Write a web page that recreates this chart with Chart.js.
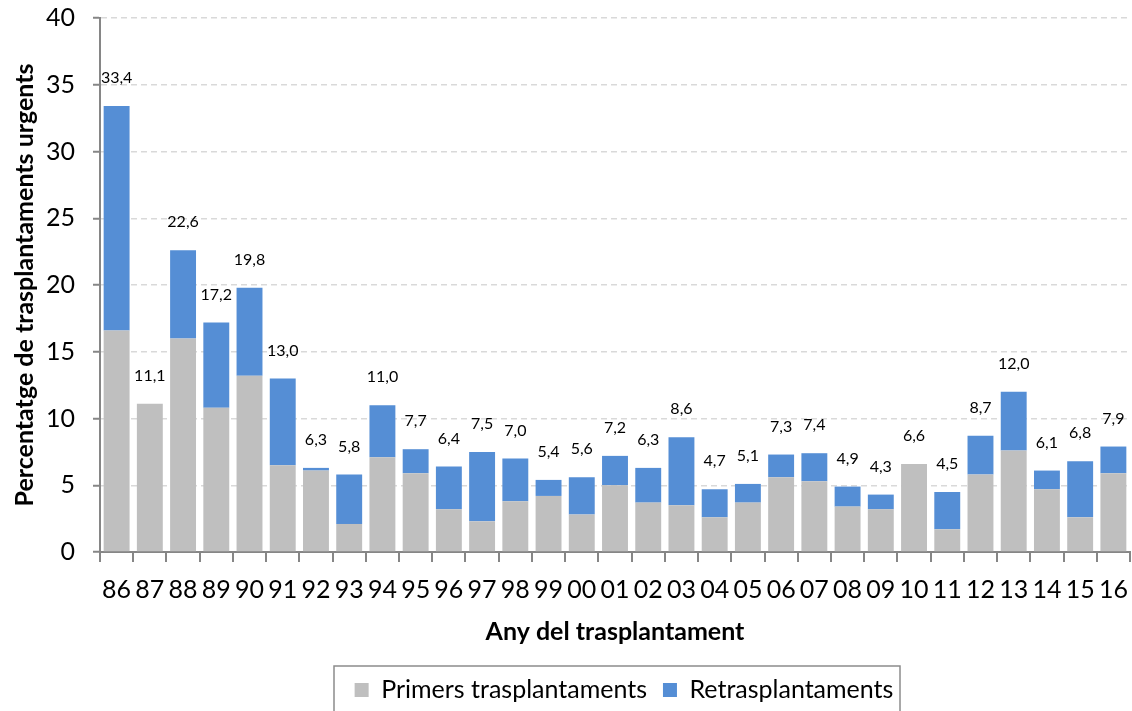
<!DOCTYPE html>
<html>
<head>
<meta charset="utf-8">
<script src="https://cdn.jsdelivr.net/npm/chart.js@4.4.0/dist/chart.umd.min.js"></script>
<style>
  html, body { margin: 0; padding: 0; background: #fff; }
  #wrap { width: 1132px; height: 711px; position: relative; }
</style>
</head>
<body>
<div id="wrap"><canvas id="c" width="1132" height="711"></canvas></div>
<script>
const years = ['86','87','88','89','90','91','92','93','94','95','96','97','98','99','00','01','02','03','04','05','06','07','08','09','10','11','12','13','14','15','16'];
const primers = [16.6, 11.1, 16.0, 10.8, 13.2, 6.5, 6.1, 2.1, 7.1, 5.9, 3.2, 2.3, 3.8, 4.2, 2.8, 5.0, 3.7, 3.5, 2.6, 3.7, 5.6, 5.3, 3.4, 3.2, 6.6, 1.7, 5.8, 7.6, 4.7, 2.6, 5.9];
const retrasplantaments = [16.8, 0.0, 6.6, 6.4, 6.6, 6.5, 0.2, 3.7, 3.9, 1.8, 3.2, 5.2, 3.2, 1.2, 2.8, 2.2, 2.6, 5.1, 2.1, 1.4, 1.7, 2.1, 1.5, 1.1, 0.0, 2.8, 2.9, 4.4, 1.4, 4.2, 2.0];
const yTicks = [0, 5, 10, 15, 20, 25, 30, 35, 40];

const FONT = 'Lato, "Open Sans", sans-serif';

const totalLabels = {
  id: 'totalLabels',
  afterDatasetsDraw(chart) {
    const ctx = chart.ctx;
    const meta = chart.getDatasetMeta(1);
    const y = chart.scales.y;
    ctx.save();
    ctx.font = '16px ' + FONT;
    ctx.fillStyle = '#000';
    ctx.textAlign = 'center';
    ctx.textBaseline = 'middle';
    years.forEach((yr, i) => {
      const total = primers[i] + retrasplantaments[i];
      const px = meta.data[i].x;
      const py = y.getPixelForValue(total) - 28;
      ctx.fillText(total.toFixed(1).replace('.', ','), px, py);
    });
    ctx.restore();
  }
};

const legendPlace = {
  id: 'legendPlace',
  afterLayout(chart) {
    const lg = chart.legend;
    if (!lg) return;
    const cx = 624, half = 420;
    lg.left = cx - half; lg.right = cx + half; lg.width = 2 * half;
    lg.top = 677.5 - 16; lg.bottom = 711; lg.height = lg.bottom - lg.top;
  },
  afterDraw(chart) {
    const boxes = chart.legend && chart.legend.legendHitBoxes;
    if (!boxes || !boxes.length) return;
    let l = Infinity, r = -Infinity, t = Infinity;
    boxes.forEach(b => { l = Math.min(l, b.left); r = Math.max(r, b.left + b.width); t = Math.min(t, b.top); });
    const ctx = chart.ctx;
    ctx.save();
    ctx.strokeStyle = '#8c8c8c';
    ctx.lineWidth = 1.5;
    ctx.strokeRect(Math.round(l - 21), Math.round(t - 11.5), Math.round(r - l + 27), 80);
    ctx.restore();
  }
};

new Chart(document.getElementById('c'), {
  type: 'bar',
  data: {
    labels: years,
    datasets: [
      { label: 'Primers trasplantaments', data: primers, backgroundColor: '#bfbfbf', barPercentage: 0.78, categoryPercentage: 1.0 },
      { label: 'Retrasplantaments', data: retrasplantaments, backgroundColor: '#558ed5', barPercentage: 0.78, categoryPercentage: 1.0 }
    ]
  },
  options: {
    responsive: false,
    animation: false,
    layout: { padding: { top: 0, right: 2, left: 0, bottom: 0 } },
    plugins: {
      legend: {
        position: 'bottom',
        maxHeight: 64,
        labels: {
          boxWidth: 14, boxHeight: 14, padding: 16,
          color: '#000',
          font: { family: FONT, size: 25 }
        }
      },
      tooltip: { enabled: false }
    },
    scales: {
      x: {
        stacked: true,
        afterFit(scale) { scale.height = 108; scale.paddingLeft = 0; scale.paddingRight = 0; },
        grid: { offset: true, drawOnChartArea: false, color: '#868686', tickLength: 10, lineWidth: 2 },
        border: { color: '#868686', width: 2 },
        ticks: { color: '#000', font: { family: FONT, size: 25 }, padding: 13, maxRotation: 0, autoSkip: false },
        title: { display: true, text: 'Any del trasplantament', color: '#000', font: { family: FONT, size: 25, weight: 'bold' }, padding: { top: 0, bottom: 13 } }
      },
      y: {
        stacked: true,
        min: 0, max: 40,
        afterBuildTicks(scale) { scale.ticks = yTicks.map(v => ({ value: v })); },
        afterFit(scale) { scale.width = 100; scale.paddingTop = 18; },
        grid: { color: '#d9d9d9', tickColor: '#868686', tickLength: 7, lineWidth: 1.5, tickWidth: 2 },
        border: { color: '#868686', width: 2, dash: [6, 4] },
        ticks: { color: '#000', font: { family: FONT, size: 25 }, padding: 18 },
        title: { display: true, text: 'Percentatge de trasplantaments urgents', color: '#000', font: { family: FONT, size: 25, weight: 'bold' }, padding: { top: 10, bottom: 0 } }
      }
    }
  },
  plugins: [totalLabels, legendPlace]
});
</script>
</body>
</html>
